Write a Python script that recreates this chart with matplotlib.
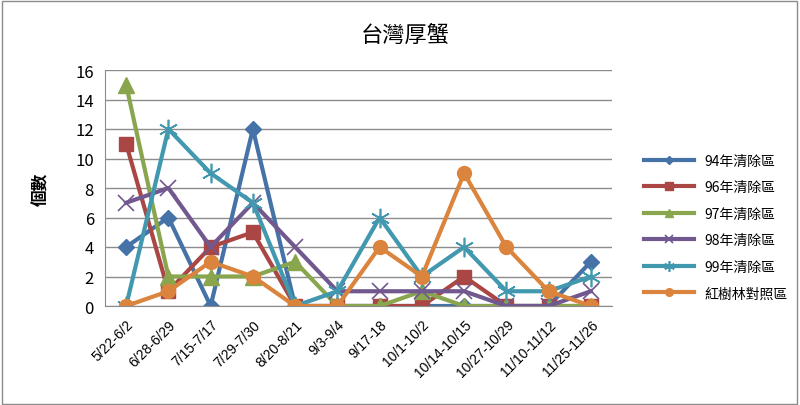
import matplotlib
matplotlib.use('Agg')
import matplotlib.pyplot as plt

plt.rcParams['font.family'] = ['Noto Sans CJK TC', 'DejaVu Sans']

dates = ['5/22-6/2', '6/28-6/29', '7/15-7/17', '7/29-7/30', '8/20-8/21', '9/3-9/4',
         '9/17-18', '10/1-10/2', '10/14-10/15', '10/27-10/29', '11/10-11/12', '11/25-11/26']
names = ['94年清除區', '96年清除區', '97年清除區', '98年清除區', '99年清除區', '紅樹林對照區']
y94 = [4, 6, 0, 12, 0, 0, 0, 0, 0, 0, 0, 3]
y96 = [11, 1, 4, 5, 0, 0, 0, 0, 2, 0, 0, 0]
y97 = [15, 2, 2, 2, 3, 0, 0, 1, 0, 0, 0, 0]
y98 = [7, 8, 4, 7, 4, 1, 1, 1, 1, 0, 0, 1]
y99 = [0, 12, 9, 7, 0, 1, 6, 2, 4, 1, 1, 2]
yref = [0, 1, 3, 2, 0, 0, 4, 2, 9, 4, 1, 0]

series = [y94, y96, y97, y98, y99, yref]
colors = ['#4572A7', '#AA4643', '#89A54E', '#71588F', '#4198AF', '#DB843D']
markers = ['D', 's', '^', 'x', (6, 2, 0), 'o']
msizes = [8, 10, 11, 11, 14, 10]

fig = plt.figure(figsize=(8, 4.06), dpi=100)
ax = fig.add_axes([105/800, 1-307/406, 507/800, 236/406])
x = list(range(len(dates)))
for ys, c, m, ms, n in zip(series, colors, markers, msizes, names):
    thin = m in ('x',) or isinstance(m, tuple)
    ax.plot(x, ys, color=c, marker=m, markersize=ms, linewidth=3, label=n,
            markeredgewidth=1.2 if thin else 1, markerfacecolor=c)

ax.set_xlim(-0.5, 11.5)
ax.set_ylim(0, 16)
ax.set_yticks(range(0, 17, 2))
ax.yaxis.grid(True, color='#8c8c8c', linewidth=1)
ax.set_axisbelow(True)
for s in ['top', 'right']:
    ax.spines[s].set_visible(False)
ax.spines['left'].set_color('#8c8c8c')
ax.spines['bottom'].set_color('#8c8c8c')
ax.tick_params(axis='y', length=0, labelsize=12, pad=8)
ax.tick_params(axis='x', length=0, labelsize=10, pad=8)
ax.set_xticks(x)
ax.set_xticklabels(dates, rotation=45, ha='right', rotation_mode='anchor', family='Liberation Sans')

ax.set_ylabel('個數', fontsize=12, fontweight='bold', labelpad=18)
fig.text(405/800, 1-35/406, '台灣厚蟹', ha='center', va='center', fontsize=16, fontweight='medium')

fig.legend(loc='center left', bbox_to_anchor=(638/800, 1-228/406), frameon=False,
           fontsize=10, handlelength=3.6, labelspacing=0.9, borderaxespad=0, markerscale=0.55)

fig.patches.append(plt.Rectangle((0.002, 0.003), 0.994, 0.992, transform=fig.transFigure,
                                 fill=False, edgecolor='#8c8c8c', linewidth=1))
fig.savefig('out.png', dpi=100)
